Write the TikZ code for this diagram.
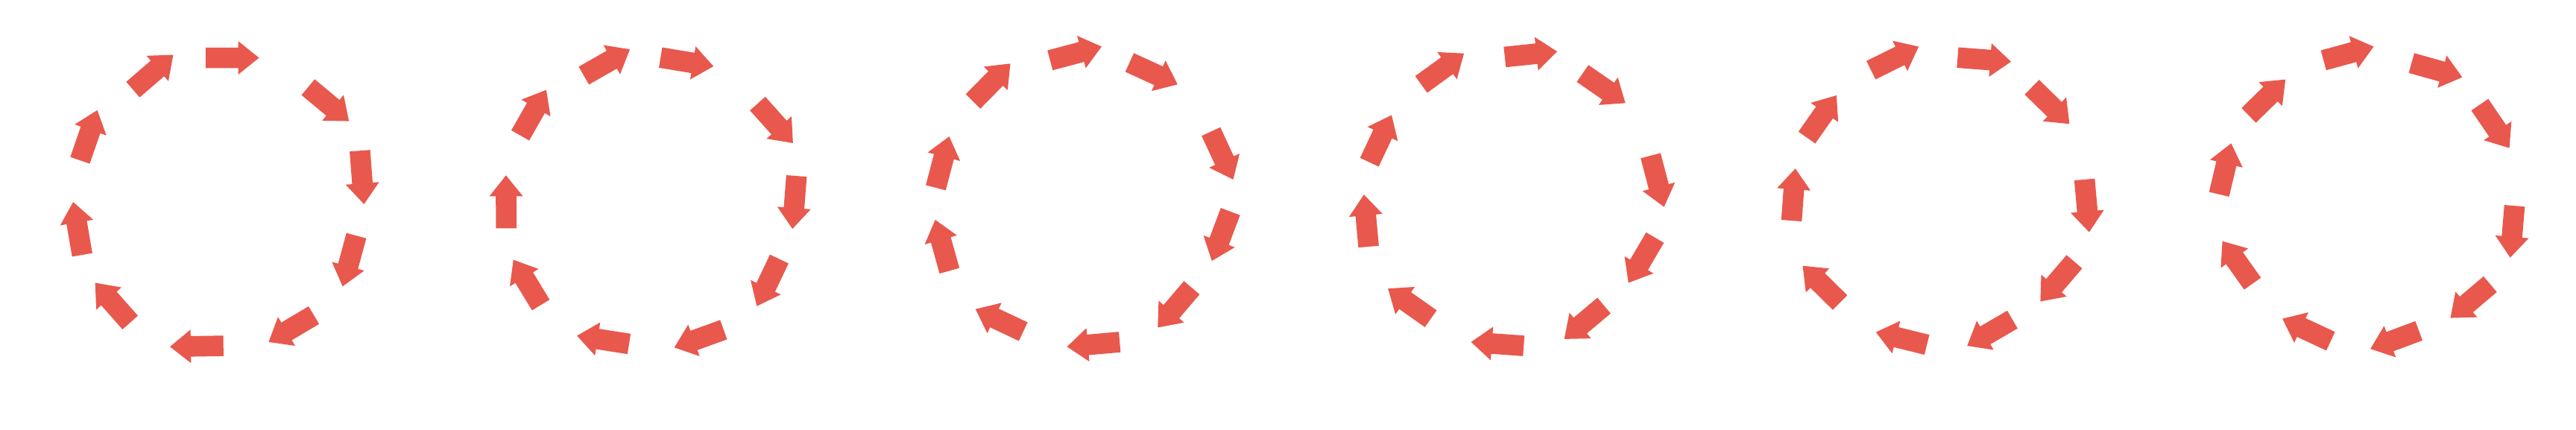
\documentclass[tikz,border=0pt]{standalone}
\definecolor{arrowred}{RGB}{233,88,77}
\tikzset{arrowshape/.style={fill=arrowred, draw=none}}
\begin{document}
\begin{tikzpicture}[x=0.0036735cm, y=-0.0036735cm]
\fill[white] (0cm,0cm) rectangle (34.56cm,-5.76cm);
\useasboundingbox (0cm,0cm) rectangle (34.56cm,-5.76cm);
\foreach \k/\data in {
 0/{750/211/945/211, 1124/318/1273/442, 1313/550/1328/745, 1300/860/1250/1045, 1145/1150/980/1248, 815/1262/620/1265, 475/1177/347/1032, 300/930/267/737, 292/585/355/402, 485/327/632/200},
 1/{842/210/1035/242, 1196/378/1325/522, 1338/642/1323/835, 1275/945/1193/1117, 1072/1203/892/1268, 727/1255/537/1225, 405/1113/305/948, 279/833/278/640, 330/494/425/328, 562/276/730/180},
 2/{695/220/883/170, 985/228/1160/308, 1282/480/1363/655, 1353/772/1285/952, 1212/1050/1088/1195, 949/1248/757/1265, 597/1210/423/1128, 328/988/276/802, 278/685/327/498, 414/370/550/232},
 3/{786/208/977/188, 1070/268/1226/376, 1318/568/1367/755, 1334/867/1237/1032, 1148/1115/1003/1237, 855/1262/663/1248, 516/1163/360/1053, 289/900/272/710, 292/592/373/420, 481/308/637/195},
 4/{870/210/1065/225, 1141/318/1278/452, 1333/655/1350/847, 1296/955/1172/1100, 1070/1166/905/1262, 758/1258/572/1212, 441/1104/305/970, 264/805/278/615, 320/502/428/348, 554/256/728/170},
 5/{637/220/820/170, 958/230/1143/282, 1207/382/1315/540, 1334/751/1318/940, 1245/1037/1100/1160, 985/1207/808/1273, 663/1245/487/1163, 378/1035/268/880, 256/709/300/523, 364/421/498/290}}
{
  \foreach \a/\b/\c/\d in \data {
    \pgfmathsetmacro\ax{\a+1568*\k}
    \pgfmathsetmacro\ang{atan2(\b-\d,\c-\a)}
    \pgfmathsetmacro\len{veclen(\c-\a,\d-\b)*0.0036735}
    \pgfmathsetmacro\hb{\len-0.28}
    \begin{scope}[shift={(\ax,\b)}, rotate=\ang, x=1cm, y=1cm]
      \fill[arrowshape] (0,0.138) -- (\hb,0.138) -- (\hb,0.225) -- (\len,0)
        -- (\hb,-0.225) -- (\hb,-0.138) -- (0,-0.138) -- cycle;
    \end{scope}
  }
}
\end{tikzpicture}
\end{document}
